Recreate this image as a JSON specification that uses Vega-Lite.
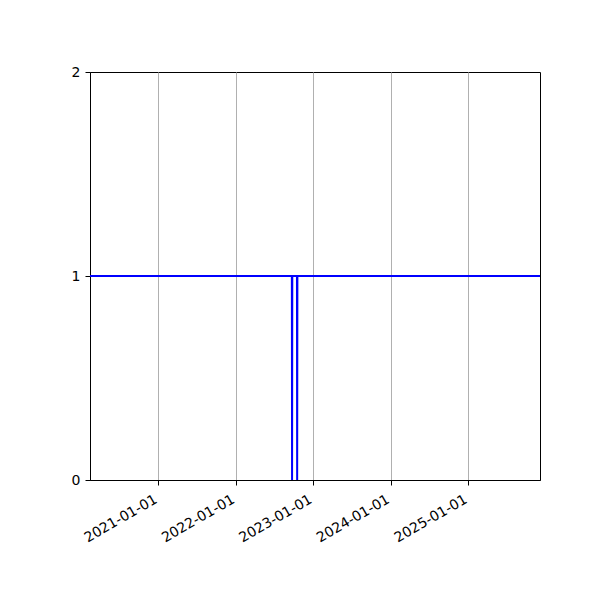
{
  "$schema": "https://vega.github.io/schema/vega-lite/v6.json",
  "width": 450,
  "height": 408,
  "autosize": "none",
  "padding": {"left": 90, "top": 72, "right": 60, "bottom": 120},
  "background": "white",
  "data": {
    "values": [
      {"date": "2020-01-01", "value": 1},
      {"date": "2022-09-23", "value": 1},
      {"date": "2022-09-24", "value": 0},
      {"date": "2022-09-25", "value": 1},
      {"date": "2022-10-17", "value": 1},
      {"date": "2022-10-18", "value": 0},
      {"date": "2022-10-19", "value": 1},
      {"date": "2026-01-01", "value": 1}
    ]
  },
  "mark": {"type": "line", "color": "#0000ff", "strokeWidth": 2, "clip": true},
  "encoding": {
    "x": {
      "field": "date",
      "type": "temporal",
      "scale": {
        "type": "utc",
        "domain": [
          {"year": 2020, "month": 2, "date": 15, "utc": true},
          {"year": 2025, "month": 12, "date": 5, "utc": true}
        ],
        "nice": false
      },
      "axis": {
        "title": null,
        "values": [
          {"year": 2021, "month": 1, "date": 1, "utc": true},
          {"year": 2022, "month": 1, "date": 1, "utc": true},
          {"year": 2023, "month": 1, "date": 1, "utc": true},
          {"year": 2024, "month": 1, "date": 1, "utc": true},
          {"year": 2025, "month": 1, "date": 1, "utc": true}
        ],
        "labelExpr": "utcFormat(datum.value, '%Y-%m-%d')",
        "labelAngle": -30,
        "labelAlign": "right",
        "labelBaseline": "top",
        "labelOffset": -6,
        "labelPadding": 7,
        "labelOverlap": false,
        "grid": true,
        "gridColor": "#b0b0b0",
        "gridWidth": 1
      }
    },
    "y": {
      "field": "value",
      "type": "quantitative",
      "scale": {"domain": [0, 2], "nice": false},
      "axis": {
        "title": null,
        "values": [0, 1, 2],
        "labelExpr": "format(datum.value, 'd')",
        "labelOverlap": false,
        "labelFlush": false,
        "grid": false
      }
    }
  },
  "config": {
    "view": {"stroke": "black", "strokeWidth": 1},
    "axis": {
      "domainColor": "black",
      "tickColor": "black",
      "tickSize": 5,
      "labelColor": "black",
      "labelFont": "DejaVu Sans",
      "labelFontSize": 14,
      "labelPadding": 5
    }
  }
}
